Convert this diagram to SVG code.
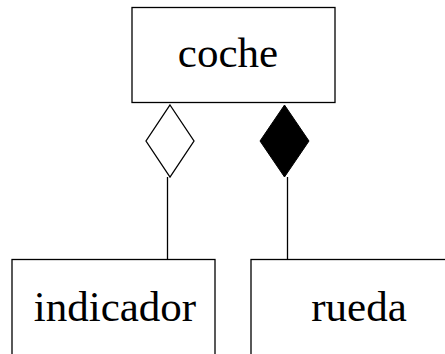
<svg xmlns="http://www.w3.org/2000/svg" width="445" height="354" viewBox="0 0 445 354">
<style>
.box{fill:#fff;stroke:#000;stroke-width:1.3}
.lbl{font-family:"Liberation Serif","Times New Roman",serif;font-size:43px;fill:#000;text-anchor:middle}
.ln{stroke:#000;stroke-width:1.3;fill:none}
</style>
<rect width="445" height="354" fill="#fff"/>
<g id="coche">
<rect class="box" x="132" y="7.5" width="203" height="95"/>
<text class="lbl" x="228" y="67">coche</text>
</g>
<g id="indicador">
<rect class="box" x="12" y="259.5" width="203" height="110"/>
<text class="lbl" x="115" y="321">indicador</text>
</g>
<g id="rueda">
<rect class="box" x="251" y="259.5" width="210" height="110"/>
<text class="lbl" x="359" y="321">rueda</text>
</g>
<g id="connectors">
<polygon class="ln" points="170,105 194,141 170,177 146,141" fill="#fff"/>
<line class="ln" x1="167.5" y1="177" x2="167.5" y2="259.5"/>
<polygon points="284.5,105 309,141 284.5,177 260,141" fill="#000" stroke="#000" stroke-width="1"/>
<line class="ln" x1="287.5" y1="177" x2="287.5" y2="259.5"/>
</g>
</svg>
